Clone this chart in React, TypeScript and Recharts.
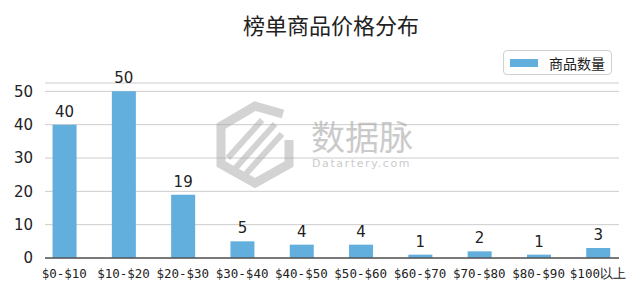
import React from 'react';
import { BarChart, Bar, XAxis, YAxis, CartesianGrid, LabelList } from 'recharts';

const priceRanges = ['$0-$10', '$10-$20', '$20-$30', '$30-$40', '$40-$50', '$50-$60', '$60-$70', '$70-$80', '$80-$90', '$100以上'];
const itemCounts = [40, 50, 19, 5, 4, 4, 1, 2, 1, 3];
const yTicks = [0, 10, 20, 30, 40, 50];

const chartData = priceRanges.map((range, i) => ({ x: i, range, count: itemCounts[i] }));

const BAR_COLOR = '#62aedc';
const TEXT_COLOR = '#222222';

const LegendBox = () => (
  <div
    style={{
      position: 'absolute',
      left: 503,
      top: 50,
      width: 109,
      height: 25,
      border: '1px solid #d0d0d0',
      borderRadius: 4,
      background: '#fff',
      boxSizing: 'border-box',
      display: 'flex',
      alignItems: 'center',
      fontFamily: '"Noto Sans CJK SC", sans-serif',
      fontSize: 14,
      color: TEXT_COLOR,
    }}
  >
    <span style={{ display: 'inline-block', width: 28, height: 8, background: BAR_COLOR, marginLeft: 6, marginRight: 11 }} />
    <span style={{ lineHeight: '14px' }}>商品数量</span>
  </div>
);

// watermark in the middle of the plot
const Watermark = () => (
  <svg width={640} height={289} style={{ position: 'absolute', left: 0, top: 0, pointerEvents: 'none' }}>
    <g opacity={0.5} stroke="#a8a8a8" fill="none" strokeWidth={9} strokeLinejoin="miter">
      <path d="M283 114 L255 106 L221 126 L221 164 L255 183 L289 164 L289 140" />
      <path d="M232 172 L275 124" strokeWidth={6} />
      <path d="M244 176 L282 134" strokeWidth={6} />
      <path d="M228 158 L262 120" strokeWidth={6} />
    </g>
    <text x={311} y={150} fill="#a8a8a8" opacity={0.6} fontFamily='"Noto Sans CJK SC", sans-serif' fontSize={34}>数据脉</text>
    <text x={312} y={167} fill="#a8a8a8" opacity={0.6} fontFamily="'DejaVu Sans', sans-serif" fontSize={11} letterSpacing={1.6}>Datartery.com</text>
  </svg>
);

export default function App() {
  return (
    <div style={{ position: 'absolute', left: 0, top: 0, width: 640, height: 289, background: '#fff' }}>
      <div
        style={{
          position: 'absolute',
          left: 0,
          top: 9,
          width: 662,
          textAlign: 'center',
          fontFamily: '"Noto Sans CJK SC", sans-serif',
          fontSize: 22,
          color: TEXT_COLOR,
          lineHeight: '30px',
        }}
      >
        榜单商品价格分布
      </div>
      <BarChart width={640} height={289} data={chartData} margin={{ top: 83, right: 21, bottom: 0, left: 0 }}>
        <CartesianGrid vertical={false} stroke="#cccccc" />
        <XAxis
          dataKey="x"
          type="number"
          domain={[-0.324, 9.356]}
          ticks={[0, 1, 2, 3, 4, 5, 6, 7, 8, 9]}
          tickFormatter={(v: number) => priceRanges[v]}
          interval={0}
          height={31}
          axisLine={{ stroke: '#555555', strokeWidth: 1.5 }}
          tickLine={false}
          tickMargin={5}
          tick={{ fill: TEXT_COLOR, fontSize: 12.5, fontFamily: "'DejaVu Sans Mono', monospace" }}
        />
        <YAxis
          width={45}
          domain={[0, 52.5]}
          ticks={yTicks}
          axisLine={false}
          tickLine={false}
          tickMargin={6}
          tick={{ fill: TEXT_COLOR, fontSize: 15, fontFamily: "'DejaVu Sans', sans-serif" }}
        />
        <Bar dataKey="count" name="商品数量" fill={BAR_COLOR} barSize={24} isAnimationActive={false}>
          <LabelList
            dataKey="count"
            position="top"
            offset={8}
            fill={TEXT_COLOR}
            fontSize={15}
            fontFamily="'DejaVu Sans', sans-serif"
          />
        </Bar>
      </BarChart>
      <LegendBox />
      <Watermark />
    </div>
  );
}
